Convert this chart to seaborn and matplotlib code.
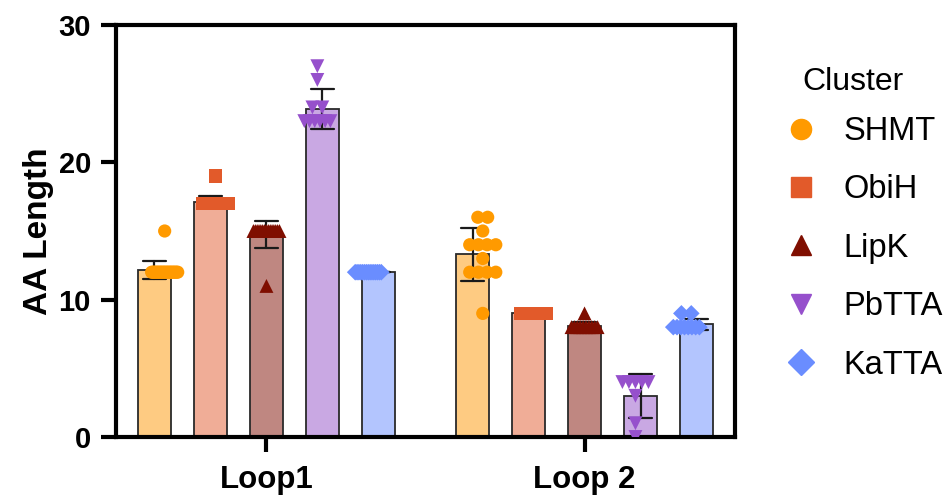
import numpy as np
import pandas as pd
import matplotlib
matplotlib.use('Agg')
import matplotlib.pyplot as plt
import seaborn as sns
from matplotlib.lines import Line2D

# values (AA length per sequence)
loops = ['Loop1', 'Loop 2']
clusters = ['SHMT', 'ObiH', 'LipK', 'PbTTA', 'KaTTA']

shmt_loop1 = [12, 12, 12, 12, 12, 12, 12, 12, 12, 12, 12, 12, 12, 12, 12, 12, 12, 12, 12, 15]
obih_loop1 = [17, 17, 17, 17, 17, 17, 17, 17, 17, 17, 17, 17, 17, 17, 17, 17, 17, 17, 17, 19]
lipk_loop1 = [15, 15, 15, 15, 15, 15, 15, 15, 15, 15, 15, 15, 15, 15, 15, 11]
pbtta_loop1 = [23, 23, 23, 23, 23, 23, 24, 24, 26, 27]
katta_loop1 = [12, 12, 12, 12, 12, 12, 12, 12, 12, 12, 12, 12, 12, 12, 12]

shmt_loop2 = [16, 16, 15, 14, 14, 14, 14, 13, 12, 12, 12, 12, 9]
obih_loop2 = [9, 9, 9, 9, 9, 9, 9, 9, 9, 9]
lipk_loop2 = [8, 8, 8, 8, 8, 8, 8, 8, 8, 8, 9]
pbtta_loop2 = [4, 4, 4, 4, 4, 3, 1, 0]
katta_loop2 = [8, 8, 8, 8, 8, 8, 8, 8, 9, 9]

bar_colors = ['#FECB82', '#F0AD97', '#BF8781', '#C9A8E3', '#B3C5FE']
dot_colors = ['#FF9A00', '#E25A2A', '#7F0E00', '#9650CC', '#6A8DFF']
markers = ['o', 's', '^', 'v', 'D']
sizes = [9.5, 9.5, 10, 10, 8.5]
legend_sizes = [14.5, 14.5, 15, 15, 13.5]

series = {
    ('Loop1', 'SHMT'): shmt_loop1, ('Loop1', 'ObiH'): obih_loop1,
    ('Loop1', 'LipK'): lipk_loop1, ('Loop1', 'PbTTA'): pbtta_loop1,
    ('Loop1', 'KaTTA'): katta_loop1,
    ('Loop 2', 'SHMT'): shmt_loop2, ('Loop 2', 'ObiH'): obih_loop2,
    ('Loop 2', 'LipK'): lipk_loop2, ('Loop 2', 'PbTTA'): pbtta_loop2,
    ('Loop 2', 'KaTTA'): katta_loop2,
}
rows = [(lp, cl, v) for (lp, cl), vals in series.items() for v in vals]
df = pd.DataFrame(rows, columns=['loop', 'cluster', 'length'])
dot_pal = dict(zip(clusters, dot_colors))


def spread_rows(coll, step=0.031, half=0.041):
    """Spread tied values sideways, Prism style."""
    off = np.asarray(coll.get_offsets(), dtype=float).copy()
    if len(off) == 0:
        return
    for v in np.unique(off[:, 1]):
        idx = np.where(off[:, 1] == v)[0]
        n = len(idx)
        if n > 1:
            w = min(half, step * (n - 1) / 2)
            off[idx, 0] += np.linspace(-w, w, n)
    coll.set_offsets(off)


sns.set_theme(style='ticks')
plt.rcParams['font.family'] = ['Liberation Sans', 'DejaVu Sans']
plt.rcParams.update({'text.color': 'black', 'axes.labelcolor': 'black',
                     'xtick.color': 'black', 'ytick.color': 'black'})

fig = plt.figure(figsize=(9.49, 4.96), dpi=100)
ax = fig.add_axes([116 / 949, 1 - 437 / 496, 619 / 949, 412 / 496])

sns.barplot(data=df, x='loop', y='length', hue='cluster', order=loops,
            hue_order=clusters, palette=bar_colors, saturation=1,
            errorbar='sd', capsize=0.37,
            err_kws={'color': 'k', 'linewidth': 1.6},
            width=0.88, gap=0.42, edgecolor='#2a2a2a', linewidth=1.3,
            legend=False, ax=ax)

for cl, m, s in zip(clusters, markers, sizes):
    n0 = len(ax.collections)
    sns.stripplot(data=df[df['cluster'] == cl], x='loop', y='length',
                  hue='cluster', order=loops, hue_order=clusters,
                  palette=dot_pal, dodge=True, jitter=False, marker=m,
                  size=s, linewidth=0, legend=False, ax=ax)
    for coll in ax.collections[n0:]:
        spread_rows(coll)

ax.set_xlim(-0.473, 1.473)
ax.set_ylim(0, 30)
ax.set_yticks([0, 10, 20, 30])
ax.set_xlabel('')
ax.set_ylabel('AA Length', fontsize=24, fontweight='bold', labelpad=3)
for sp in ax.spines.values():
    sp.set_visible(True)
    sp.set_linewidth(3)
    sp.set_color('black')
ax.tick_params(axis='both', width=3, length=11, color='black',
               labelcolor='black')
ax.tick_params(axis='y', labelsize=21, pad=7)
ax.tick_params(axis='x', labelsize=22.5, pad=9)
for lbl in ax.get_xticklabels() + ax.get_yticklabels():
    lbl.set_fontweight('bold')

# legend: marker-only entries, title set as its own text
handles = [Line2D([], [], marker=m, color=c, linestyle='none', markersize=ms)
           for m, c, ms in zip(markers, dot_colors, legend_sizes)]
fig.legend(handles, clusters, loc='upper left',
           bbox_to_anchor=(785 / 949, 1 - 116 / 496), frameon=False,
           fontsize=23.5, borderaxespad=0, borderpad=0, handlelength=1.0,
           handletextpad=0.79, labelspacing=0.84)
fig.text(802 / 949, 1 - 82 / 496, 'Cluster', fontsize=23, ha='left',
         va='center')

fig.savefig('out.png', dpi=100)
